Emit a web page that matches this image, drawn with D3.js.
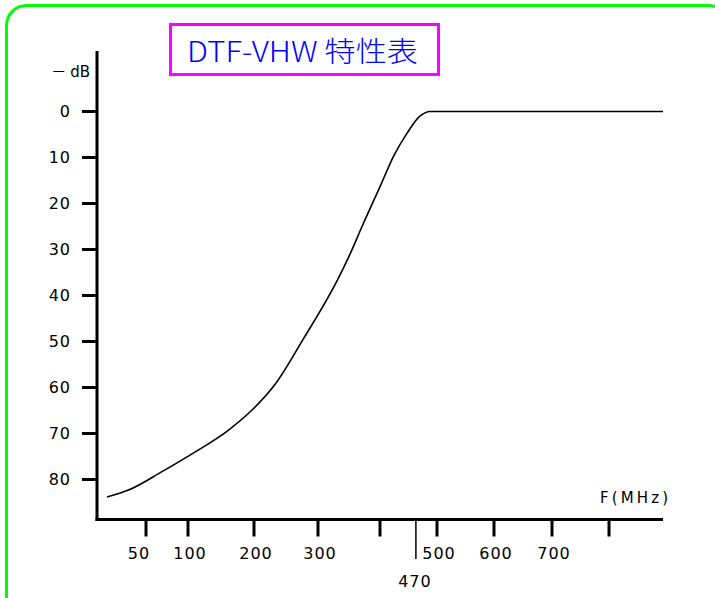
<!DOCTYPE html>
<html>
<head>
<meta charset="utf-8">
<script src="https://cdn.jsdelivr.net/npm/d3@7"></script>
<style>
  body { margin: 0; background: #fff; }
  svg { display: block; }
  text { font-family: "DejaVu Sans", sans-serif; fill: #000; }
</style>
</head>
<body>
<div id="chart"></div>
<script>
// frequency (MHz) and attenuation (-dB)
var freq = [10, 32, 69, 111, 161, 197, 233, 276, 330, 352, 371, 403, 423, 447, 470, 479, 487, 895];
var atten = [83.8, 82.3, 78.3, 74.0, 69.3, 64.9, 59.3, 49.7, 37.0, 30.9, 25.0, 15.5, 9.9, 4.8, 1.0, 0.3, 0, 0];

var yTicks = [0, 10, 20, 30, 40, 50, 60, 70, 80];
var xTicks = [50, 100, 200, 300, 400, 500, 600, 700, 800];
var xLabels = [50, 100, 200, 300, 500, 600, 700];
var cutoff = 470;

var title = "DTF-VHW 特性表";
var yUnit = "dB";
var xUnit = "F(MHz)";

var width = 715, height = 598;

var svg = d3.select("#chart")
    .append("svg")
    .attr("width", width)
    .attr("height", height);

// green frame
svg.append("rect")
    .attr("x", 6.5).attr("y", 5.5)
    .attr("width", 722).attr("height", 620)
    .attr("rx", 20).attr("ry", 20)
    .attr("fill", "none")
    .attr("stroke", "#00ff00")
    .attr("stroke-width", 3);

// title box
svg.append("rect")
    .attr("x", 170.5).attr("y", 24.5)
    .attr("width", 268).attr("height", 50)
    .attr("fill", "#fff")
    .attr("stroke", "#ff00ff")
    .attr("stroke-width", 3);
svg.append("text")
    .attr("x", 187).attr("y", 62)
    .attr("textLength", 231)
    .attr("lengthAdjust", "spacingAndGlyphs")
    .style("font-family", "'Noto Sans CJK JP', sans-serif")
    .style("font-weight", 300)
    .style("font-size", "28px")
    .style("fill", "#0000ff")
    .text(title);

// the X scale of the sheet is not uniform, so it is piecewise
var x = d3.scaleLinear()
    .domain([0, 10, 50, 100, 200, 300, 400, 500, 600, 700, 800, 895])
    .range([97, 107, 146, 188, 254, 318, 380, 437, 494, 552, 609, 663]);

var y = d3.scaleLinear()
    .domain([0, 80])
    .range([111.5, 479.5]);

var x0 = 97, yBase = 519.5;

// Y axis
svg.append("line")
    .attr("x1", x0).attr("x2", x0)
    .attr("y1", 51).attr("y2", yBase + 1.5)
    .attr("stroke", "#000").attr("stroke-width", 3);

svg.selectAll(".ytick")
    .data(yTicks)
    .enter()
    .append("line")
    .attr("x1", x0 - 15).attr("x2", x0)
    .attr("y1", function (d) { return y(d); })
    .attr("y2", function (d) { return y(d); })
    .attr("stroke", "#000").attr("stroke-width", 3);

svg.selectAll(".ylab")
    .data(yTicks)
    .enter()
    .append("text")
    .attr("x", 71)
    .attr("y", function (d) { return y(d); })
    .attr("dy", "0.36em")
    .attr("text-anchor", "end")
    .style("font-size", "16px")
    .style("letter-spacing", "1px")
    .text(function (d) { return d; });

var unit = svg.append("text")
    .attr("x", 90).attr("y", 72)
    .attr("dy", "0.36em")
    .attr("text-anchor", "end")
    .style("font-size", "15px");
unit.append("tspan")
    .style("font-family", "'Noto Sans CJK JP', sans-serif")
    .text("－");
unit.append("tspan")
    .attr("dx", 4)
    .text(yUnit);

// X axis
svg.append("line")
    .attr("x1", x0 - 1.5).attr("x2", x(895))
    .attr("y1", yBase).attr("y2", yBase)
    .attr("stroke", "#000").attr("stroke-width", 3);

svg.selectAll(".xtick")
    .data(xTicks)
    .enter()
    .append("line")
    .attr("x1", function (d) { return x(d); })
    .attr("x2", function (d) { return x(d); })
    .attr("y1", yBase).attr("y2", yBase + 17)
    .attr("stroke", "#000").attr("stroke-width", 3);

svg.selectAll(".xlab")
    .data(xLabels)
    .enter()
    .append("text")
    .attr("x", function (d) { return x(d) + (d === 50 ? -7 : 2); })
    .attr("y", 553)
    .attr("dy", "0.36em")
    .attr("text-anchor", "middle")
    .style("font-size", "16px")
    .style("letter-spacing", "1px")
    .text(function (d) { return d; });

// 470 MHz marker
svg.append("line")
    .attr("x1", x(cutoff) - 4).attr("x2", x(cutoff) - 4)
    .attr("y1", yBase).attr("y2", 559)
    .attr("stroke", "#000").attr("stroke-width", 1.5);
svg.append("text")
    .attr("x", x(cutoff) - 5).attr("y", 581)
    .attr("dy", "0.36em")
    .attr("text-anchor", "middle")
    .style("font-size", "16px")
    .style("letter-spacing", "1px")
    .text(cutoff);

svg.append("text")
    .attr("x", 600).attr("y", 498)
    .attr("dy", "0.36em")
    .attr("textLength", 68)
    .style("font-size", "15px")
    .text(xUnit);

// response curve
var pts = freq.map(function (f, i) { return { f: f, db: atten[i] }; });
svg.append("path")
    .datum(pts)
    .attr("fill", "none")
    .attr("stroke", "#000")
    .attr("stroke-width", 1.6)
    .attr("d", d3.line()
        .x(function (d) { return x(d.f); })
        .y(function (d) { return y(d.db); })
        .curve(d3.curveMonotoneX));
</script>
</body>
</html>
